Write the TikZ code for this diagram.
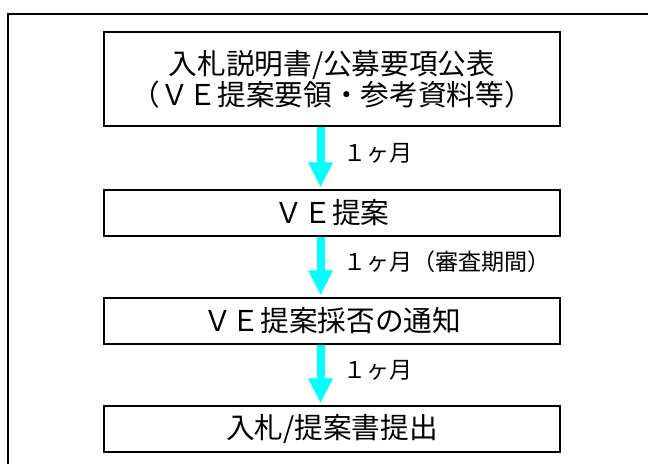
\documentclass[tikz,border=0pt]{standalone}
\usepackage{fontspec}
\setmainfont{Noto Sans CJK JP}
\usetikzlibrary{positioning,arrows.meta}
\definecolor{aqua}{RGB}{0,255,255}

\begin{document}
\begin{tikzpicture}[x=0.75pt, y=-0.75pt, node distance={46.5pt}, line width=1.5pt,
        main/.style = {draw, rectangle, minimum width=342pt, minimum height=34.5pt, inner sep=0pt, outer sep=0pt, align=center, font=\fontsize{21.5}{21.75}\selectfont},
        flow/.style = {draw=aqua, line width=6pt, -{Triangle[width=17.25pt,length=18.75pt]}, shorten <=0.8pt, shorten >=2pt},
        lbl/.style = {anchor=west, inner sep=0pt, xshift=14pt, pos=0.42, font=\fontsize{17.3}{18}\selectfont}]
        \useasboundingbox (0,0) rectangle (648,463);
        \clip (0,0) rectangle (648,463);

        % outer frame
        \draw (8,475) -- (8,14) -- (660,14);

        \node[main, minimum height=70.5pt] (1) at (332,79) {入札説明書/公募要項公表\\（ＶＥ提案要領・参考資料等）};
        \node[main] (2) [below=48pt of 1] {ＶＥ提案};
        \node[main] (3) [below=of 2] {ＶＥ提案採否の通知};
        \node[main] (4) [below=of 3] {入札/提案書提出};

        \draw[flow] ([xshift=-8.6pt]1.south) -- node[lbl] {１ヶ月} ([xshift=-8.6pt]2.north);
        \draw[flow] ([xshift=-8.6pt]2.south) -- node[lbl] {１ヶ月（審査期間）} ([xshift=-8.6pt]3.north);
        \draw[flow] ([xshift=-8.6pt]3.south) -- node[lbl] {１ヶ月} ([xshift=-8.6pt]4.north);

    \end{tikzpicture}
\end{document}
